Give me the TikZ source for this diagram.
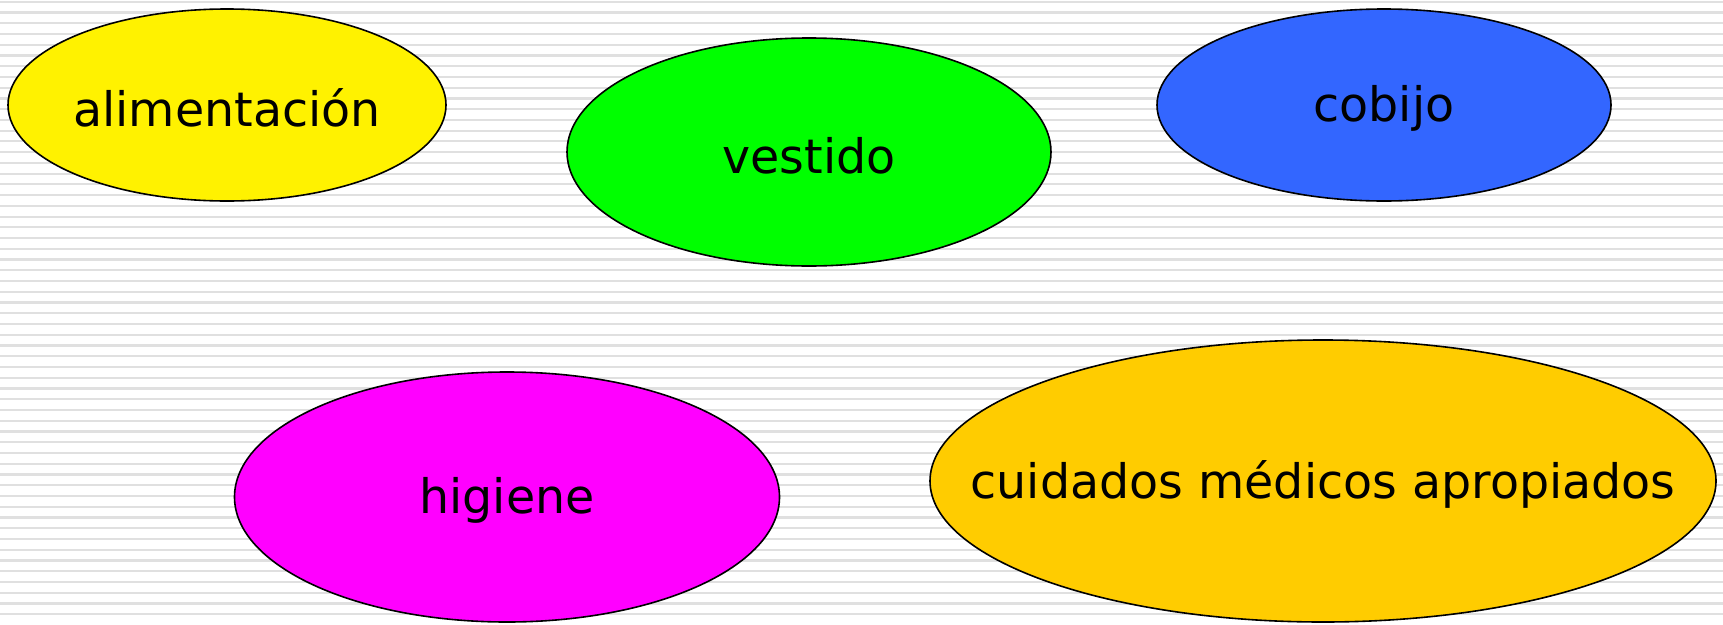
\documentclass[tikz,border=0pt]{standalone}
\usepackage{fontspec}
\setmainfont{DejaVu Sans}
\begin{document}
\begin{tikzpicture}[x=1pt,y=-1pt,
  blob/.style={draw=black, line width=1.6pt},
  lbl/.style={inner sep=0pt, font=\fontsize{47.5}{57}\selectfont},
  stripe/.style={line width=2.2pt, draw=black!12}]
\useasboundingbox (0,0) rectangle (1723,624);
\fill[white] (0,0) rectangle (1723,624);
\foreach \k in {0,...,57} {
  \draw[stripe] (0,{1.7+10.745*\k}) -- (1723,{1.7+10.745*\k});
}
\path[blob, fill=yellow] (227,105) ellipse [x radius=219, y radius=96];
\path[blob, fill={rgb,255:red,0;green,255;blue,0}] (809,152) ellipse [x radius=242, y radius=114];
\path[blob, fill={rgb,255:red,51;green,102;blue,255}] (1384,105) ellipse [x radius=227, y radius=96];
\path[blob, fill={rgb,255:red,255;green,0;blue,255}] (507,497) ellipse [x radius=272.5, y radius=125];
\path[blob, fill={rgb,255:red,255;green,204;blue,0}] (1323,481) ellipse [x radius=393, y radius=141];
\node[lbl] (alim) at (227,108) {alimentación};
\node[lbl] (vest) at (809,156) {vestido};
\node[lbl] (cob) at (1384,108) {cobijo};
\node[lbl] (hig) at (507,500) {higiene};
\node[lbl] (cui) at (1323,484) {cuidados médicos apropiados};
\end{tikzpicture}
\end{document}
